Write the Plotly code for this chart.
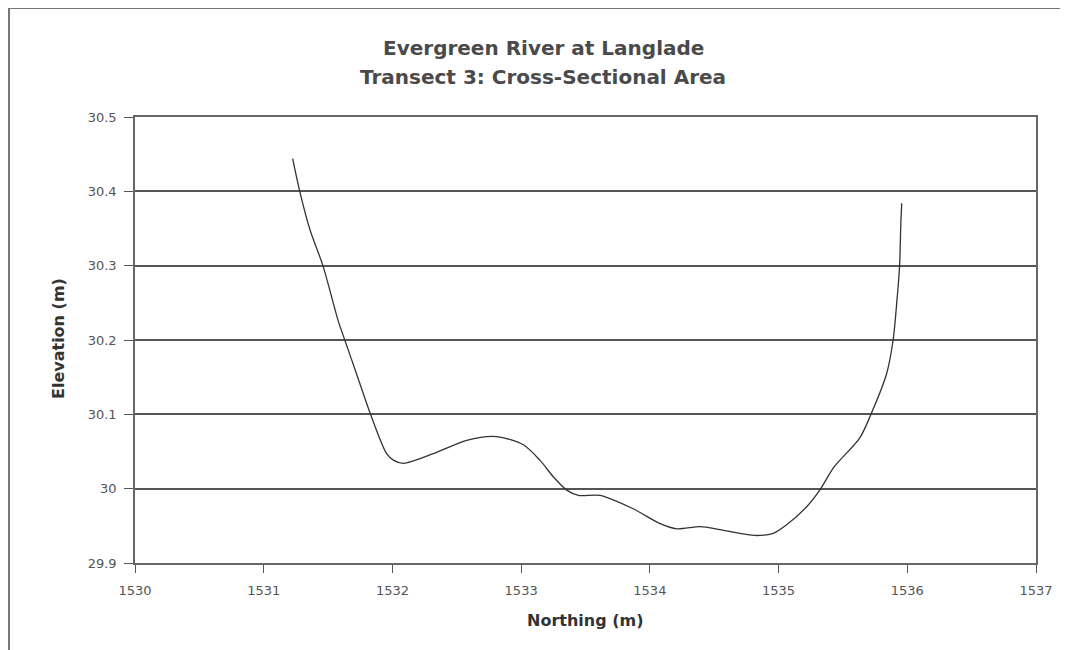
import plotly.graph_objects as go

northing = [1531.225, 1531.28, 1531.36, 1531.46, 1531.58, 1531.63, 1531.72, 1531.83,
            1531.955, 1532.01, 1532.085, 1532.318, 1532.577, 1532.81, 1533.017, 1533.147,
            1533.25, 1533.354, 1533.445, 1533.613, 1533.87, 1534.08, 1534.21, 1534.39,
            1534.545, 1534.70, 1534.83, 1534.96, 1535.06, 1535.22, 1535.32, 1535.43,
            1535.63, 1535.72, 1535.84, 1535.89, 1535.92, 1535.94, 1535.95, 1535.957]
elevation = [30.444, 30.40, 30.348, 30.30, 30.225, 30.20, 30.155, 30.10,
             30.047, 30.038, 30.034, 30.047, 30.065, 30.070, 30.059, 30.038,
             30.016, 29.998, 29.991, 29.991, 29.973, 29.953, 29.946, 29.949,
             29.945, 29.940, 29.937, 29.940, 29.951, 29.976, 29.998, 30.029,
             30.068, 30.101, 30.155, 30.20, 30.254, 30.299, 30.357, 30.384]

x_ticks = [1530, 1531, 1532, 1533, 1534, 1535, 1536, 1537]
y_ticks = [29.9, 30.0, 30.1, 30.2, 30.3, 30.4, 30.5]
y_labels = ["29.9", "30", "30.1", "30.2", "30.3", "30.4", "30.5"]

title_lines = ["Evergreen River at Langlade", "Transect 3: Cross-Sectional Area"]
x_title = "Northing (m)"
y_title = "Elevation (m)"

W, H = 1060, 642
L, R, T, B = 127, 32, 109, 87
pw, ph = W - L - R, H - T - B


def px(xp):
    return (xp - L) / pw


def py(yp):
    return (H - B - yp) / ph


fig = go.Figure()
fig.add_trace(go.Scatter(x=northing, y=elevation, mode="lines",
                         line=dict(color="#333333", width=1.3, shape="spline", smoothing=0.8),
                         showlegend=False, hoverinfo="skip"))

tick_font = dict(family="DejaVu Sans", size=13, color="#555555")
title_font = dict(family="DejaVu Sans", size=20, color="#4a4a4a", weight="bold")
axis_title_font = dict(family="DejaVu Sans", size=16, color="#333333", weight="bold")

fig.update_layout(
    width=W, height=H,
    margin=dict(l=L, r=R, t=T, b=B),
    paper_bgcolor="white", plot_bgcolor="white",
    xaxis=dict(range=[1530, 1537], tickvals=x_ticks, ticktext=[str(v) for v in x_ticks],
               showgrid=False, zeroline=False, showline=True, linecolor="#666666", linewidth=1.5,
               mirror=True, ticks="outside", ticklen=8, tickcolor="#555555",
               tickfont=tick_font, ticklabelstandoff=7),
    yaxis=dict(range=[29.9, 30.5], tickvals=y_ticks, ticktext=y_labels,
               showgrid=True, gridcolor="#555555", gridwidth=1.5, zeroline=False,
               showline=True, linecolor="#666666", linewidth=1.5, mirror=True,
               ticks="outside", ticklen=9, tickcolor="#555555",
               tickfont=tick_font, ticklabelstandoff=5),
    annotations=[
        dict(text=title_lines[0], xref="paper", yref="paper", x=px(535), y=py(40),
             xanchor="center", yanchor="middle", showarrow=False, font=title_font),
        dict(text=title_lines[1], xref="paper", yref="paper", x=px(535), y=py(69),
             xanchor="center", yanchor="middle", showarrow=False, font=title_font),
        dict(text=x_title, xref="paper", yref="paper", x=0.5, y=py(612),
             xanchor="center", yanchor="middle", showarrow=False, font=axis_title_font),
        dict(text=y_title, xref="paper", yref="paper", x=px(50), y=py(331),
             xanchor="center", yanchor="middle", showarrow=False, textangle=-90,
             font=axis_title_font),
    ],
    shapes=[
        dict(type="line", xref="paper", yref="paper", x0=px(1), x1=px(W + 20), y0=py(0), y1=py(0),
             line=dict(color="#777777", width=2)),
        dict(type="line", xref="paper", yref="paper", x0=px(1), x1=px(1), y0=py(0), y1=py(H + 20),
             line=dict(color="#777777", width=2)),
    ],
)

fig.write_html("out.html")
